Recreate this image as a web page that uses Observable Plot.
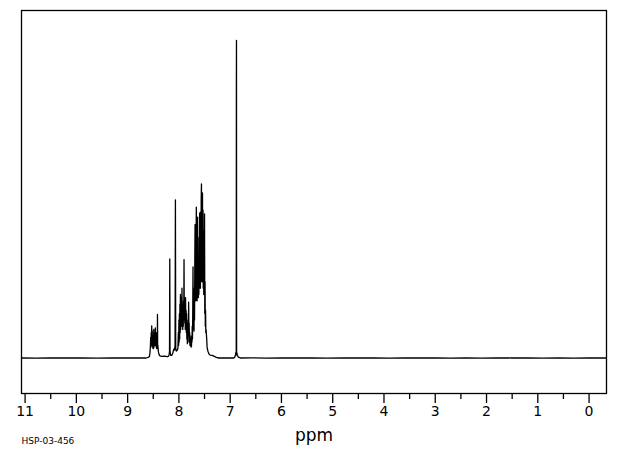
<!DOCTYPE html>
<html>
<head>
<meta charset="utf-8">
<script src="https://cdn.jsdelivr.net/npm/d3@7"></script>
<script src="https://cdn.jsdelivr.net/npm/@observablehq/plot@0.6"></script>
<style>
  html, body { margin: 0; padding: 0; background: #fff; }
</style>
</head>
<body>
<div id="chart"></div>
<script>
// Spectrum values: [chemical shift (ppm), relative intensity (%)]
const baselineHigh = [[11.07,0],[10.8,-0.05],[10.5,0.05],[10.2,0],[9.9,0.05],[9.6,-0.05],[9.3,0],[9.0,0.05],[8.8,0],[8.64,0],[8.60,0.2]];

const multiplet85 = [[8.575,0.5],[8.565,1.5],[8.555,4],[8.55,6.5],[8.545,3.5],[8.54,8],[8.535,4],[8.53,10.1],[8.525,4.5],[8.52,8.5],
  [8.515,3.5],[8.51,7],[8.505,3],[8.50,6],[8.495,3],[8.49,9],[8.485,3.5],[8.48,7.5],[8.475,4],[8.47,8],[8.465,4],[8.46,9.5],
  [8.455,4],[8.45,8],[8.445,3.5],[8.44,7],[8.435,3],[8.43,8],[8.425,3],[8.42,5],[8.418,13.7],[8.414,3],[8.41,4],[8.40,2],
  [8.39,1.2],[8.37,0.7],[8.33,0.5],[8.28,0.6],[8.23,0.4],[8.20,0.6],[8.19,1.2]];

const peaks81 = [[8.183,2],[8.178,31.2],[8.173,2],[8.16,0.8],[8.14,0.8],[8.12,1.5],[8.10,2.8],[8.085,2.5],[8.075,4],
  [8.068,49.8],[8.062,3],[8.05,2.2],[8.03,2.5]];

const multiplet79 = [[8.02,3],[8.01,8],[8.005,4],[8.00,12],[7.995,5],[7.99,14],[7.985,6],[7.98,17],[7.975,8],[7.97,20],
  [7.965,9],[7.96,16],[7.955,10],[7.95,19],[7.945,10],[7.94,22],[7.935,12],[7.93,17],[7.925,9],[7.92,15],[7.915,10],
  [7.91,18],[7.905,12],[7.90,31],[7.895,12],[7.89,19],[7.885,11],[7.88,17],[7.875,9],[7.87,19],[7.865,10],[7.86,15],
  [7.855,8],[7.85,14],[7.845,6],[7.84,11],[7.835,4.5],[7.83,8],[7.825,5],[7.82,12],[7.815,7],[7.81,17.6],[7.805,8],
  [7.80,11],[7.795,5],[7.79,8],[7.785,4],[7.78,7],[7.775,4],[7.77,6],[7.765,3.5],[7.76,5],[7.755,3.5]];

const multiplet76 = [[7.75,7],[7.745,5],[7.74,10],[7.735,6],[7.73,14],[7.725,28.7],[7.72,12],[7.715,16],[7.71,10],
  [7.705,8.5],[7.70,22],[7.695,12],[7.69,30],[7.685,42],[7.68,20],[7.675,36],[7.67,18],[7.665,38],[7.66,47.5],
  [7.655,20],[7.65,36],[7.645,18],[7.64,38],[7.635,44.4],[7.63,20],[7.625,30],[7.62,19],[7.615,32],[7.61,20],
  [7.605,38],[7.60,22],[7.595,45.7],[7.59,24],[7.585,42],[7.58,22],[7.575,46],[7.57,24],[7.565,50],[7.56,54.8],
  [7.555,26],[7.55,48],[7.545,24],[7.54,52],[7.535,24],[7.53,46.6],[7.525,22],[7.52,40],[7.515,20],[7.51,38],
  [7.505,20],[7.50,45.4],[7.495,14],[7.49,24],[7.485,10],[7.48,15],[7.475,8],[7.47,9],[7.46,6.6],[7.45,3.5],
  [7.44,2.5],[7.43,2],[7.41,1.2],[7.39,0.9],[7.35,0.8],[7.31,0.5],[7.27,0.2],[7.22,0],[7.1,0],[6.98,0.05]];

const singlet69 = [[6.93,0],[6.91,0.3],[6.895,1],[6.888,1.8],[6.882,1],[6.879,84.6],[6.877,100],[6.874,1.5],
  [6.868,1.6],[6.86,0.8],[6.84,0.3],[6.80,0]];

const baselineLow = [[6.6,0.05],[6.3,-0.05],[6.0,0.05],[5.7,0],[5.4,0.05],[5.1,-0.05],[4.8,0.05],[4.5,0],[4.2,0.05],
  [3.9,-0.05],[3.6,0.05],[3.3,0],[3.0,0.05],[2.7,-0.05],[2.4,0],[2.1,-0.05],[1.8,0.05],[1.5,0],[1.2,0.05],
  [0.9,-0.05],[0.6,0.05],[0.3,-0.05],[0.0,0],[-0.34,0]];

const majorTicks = [11, 10, 9, 8, 7, 6, 5, 4, 3, 2, 1, 0];
const tickLabels = ["11", "10", "9", "8", "7", "6", "5", "4", "3", "2", "1", "0"];
const minorTicks = [10.5, 9.5, 8.5, 7.5, 6.5, 5.5, 4.5, 3.5, 2.5, 1.5, 0.5];
const axisTitle = "ppm";
const sampleId = "HSP-03-456";

const points = [...baselineHigh, ...multiplet85, ...peaks81, ...multiplet79, ...multiplet76, ...singlet69, ...baselineLow]
  .map(([ppm, intensity]) => ({ppm, intensity}));

const chart = Plot.plot({
  width: 620,
  height: 455,
  marginTop: 10,
  marginBottom: 62,
  marginLeft: 21,
  marginRight: 14,
  style: {fontFamily: "DejaVu Sans, sans-serif", background: "#fff", color: "#000"},
  x: {domain: [11.07, -0.34]},
  y: {domain: [-11.18, 109.45], axis: null},
  marks: [
    Plot.line(points, {x: "ppm", y: "intensity", stroke: "#000", strokeWidth: 1.3, curve: "linear"}),
    Plot.frame({stroke: "#000", strokeWidth: 1.3}),
    Plot.axisX({ticks: majorTicks, tickSize: 10, tickPadding: 3, fontSize: 14, label: null, strokeWidth: 1.3,
      tickFormat: d => tickLabels[majorTicks.indexOf(d)]}),
    Plot.axisX({ticks: minorTicks, tickSize: 6, label: null, strokeWidth: 1.3, tickFormat: () => ""}),
    Plot.text([axisTitle], {text: d => d, frameAnchor: "bottom", dy: 47, fontSize: 17, fill: "#000"}),
    Plot.text([sampleId], {text: d => d, frameAnchor: "bottom-left", textAnchor: "start", dy: 50, fontSize: 9, fill: "#000"})
  ]
});
document.getElementById("chart").appendChild(chart);
</script>
</body>
</html>
